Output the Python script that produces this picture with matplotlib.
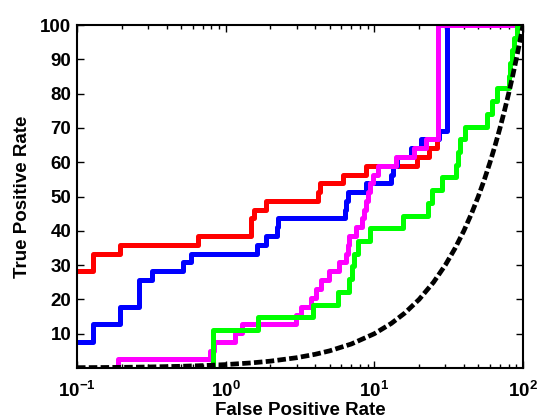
import matplotlib
matplotlib.use('Agg')
import matplotlib.pyplot as plt

plt.rcParams['font.family'] = ['Liberation Sans', 'DejaVu Sans']
plt.rcParams['font.weight'] = 'bold'
plt.rcParams['mathtext.fontset'] = 'custom'
plt.rcParams['mathtext.rm'] = 'Liberation Sans:bold'
plt.rcParams['mathtext.bf'] = 'Liberation Sans:bold'

# step curves: x where each level starts, y = level (percent)
red_fpr = [0.1, 0.129, 0.194, 0.652, 1.49, 1.55, 1.87, 4.17, 4.3, 6.2, 8.8, 19.5, 23.4, 26.2, 26.8, 100]
red_tpr = [28.2, 33.3, 35.9, 38.5, 43.6, 46.2, 48.7, 51.3, 53.8, 56.4, 59.0, 61.5, 64.1, 66.7, 100, 100]

blue_fpr = [0.1, 0.129, 0.194, 0.261, 0.32, 0.516, 0.58, 1.62, 1.87, 2.2, 2.25, 6.3, 6.45, 6.6, 8.8,
            13.0, 13.3, 14.2, 17.6, 20.6, 27.3, 31.0, 100]
blue_tpr = [7.7, 12.8, 17.9, 25.6, 28.2, 30.8, 33.3, 35.9, 38.5, 41.0, 43.6, 46.2, 48.7, 51.3, 53.8,
            56.4, 59.0, 61.5, 64.1, 66.7, 69.2, 100, 100]

magenta_fpr = [0.19, 0.19, 0.78, 0.83, 1.15, 1.29, 2.98, 3.22, 3.76, 4.06, 4.38, 4.99, 5.8, 6.45, 6.6,
               6.7, 7.5, 8.3, 8.5, 8.8, 9.0, 9.35, 9.8, 10.5, 14.0, 18.5, 22.2, 26.6, 100]
magenta_tpr = [0, 2.6, 5.1, 7.7, 10.3, 12.8, 15.4, 17.9, 20.5, 23.1, 25.6, 28.2, 30.8, 33.3, 35.9,
               38.5, 41.0, 43.6, 46.2, 48.7, 51.3, 53.8, 56.4, 59.0, 61.5, 64.1, 66.7, 100, 100]

green_fpr = [0.82, 0.82, 1.65, 3.85, 5.67, 6.8, 7.1, 7.3, 7.8, 9.3, 15.5, 22.8, 24.6, 28.7, 35.3, 36.5,
             37.8, 40.5, 57.5, 62.0, 67.0, 80.5, 82.0, 84.0, 87.0, 91.5, 100]
green_tpr = [0, 11.1, 14.8, 18.5, 22.2, 25.9, 29.6, 33.3, 37.0, 40.7, 44.4, 48.1, 51.9, 55.6, 59.3, 63.0,
             66.7, 70.4, 74.1, 77.8, 81.5, 85.2, 88.9, 92.6, 96.3, 100, 100]

# chance line (TPR = FPR)
chance_rate = [0.1, 0.15, 0.2, 0.3, 0.5, 0.7, 1, 1.5, 2, 3, 4, 5, 7, 10, 13, 16, 20, 25, 30, 35, 40,
               45, 50, 55, 60, 65, 70, 75, 80, 85, 90, 95, 100]

xtick_vals = [0.1, 1, 10, 100]
xtick_labels = [r'$\mathbf{10^{-1}}$', r'$\mathbf{10^{0}}$', r'$\mathbf{10^{1}}$', r'$\mathbf{10^{2}}$']
ytick_vals = [10, 20, 30, 40, 50, 60, 70, 80, 90, 100]

fig = plt.figure(figsize=(5.37, 4.19), dpi=100)
ax = fig.add_axes([0.1434, 0.1217, 0.8306, 0.8186])

lw = 3.6
ax.plot(red_fpr, red_tpr, color='#ff0000', lw=lw, drawstyle='steps-post')
ax.plot(blue_fpr, blue_tpr, color='#0000ff', lw=lw, drawstyle='steps-post')
ax.plot(magenta_fpr, magenta_tpr, color='#ff00ff', lw=lw, drawstyle='steps-post')
ax.plot(green_fpr, green_tpr, color='#00ff00', lw=lw, drawstyle='steps-post')
ax.plot(chance_rate, chance_rate, color='black', lw=3.4, linestyle=(0, (1.8, 0.7)))

ax.set_xscale('log')
ax.set_xlim(0.1, 100)
ax.set_ylim(0, 100)
ax.set_xticks(xtick_vals)
ax.set_xticklabels(xtick_labels)
ax.set_yticks(ytick_vals)

ax.tick_params(which='both', direction='in', top=True, right=True, labelsize=13.5)
ax.tick_params(axis='x', which='major', length=5, width=1, pad=9)
ax.tick_params(axis='x', which='minor', length=3, width=1)
ax.tick_params(axis='y', which='major', length=5, width=1, pad=4)
for s in ax.spines.values():
    s.set_linewidth(1.5)

ax.set_xlabel('False Positive Rate', fontsize=13.5, fontweight='bold', labelpad=1)
ax.set_ylabel('True Positive Rate', fontsize=13.5, fontweight='bold', labelpad=7)

fig.savefig('out.png', dpi=100)
